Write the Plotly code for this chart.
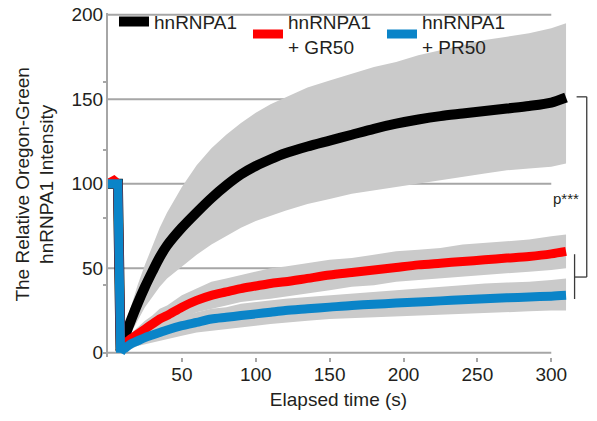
import plotly.graph_objects as go

# ---- data ----
pre_time = [0, 2, 4, 6.7]
post_time = [8.5, 10, 12, 15, 20, 25, 30, 35, 40, 50, 60, 70, 80, 90, 100,
             110, 120, 135, 150, 165, 180, 195, 210, 225, 240, 255, 270, 285, 300, 310]

a1_pre = [100, 100, 100, 100]
a1_mean = [1, 6, 11, 18, 29, 39, 48, 56.5, 63.5, 74, 83, 91.5, 99, 105.5, 110.5,
           114.5, 118, 122, 125.5, 129, 132.5, 135.5, 138, 140, 141.5, 143, 144.5, 146, 148, 151]
a1_upper = [2, 10, 17, 26, 40, 52, 63, 74, 83, 98, 111, 121, 129, 136, 142,
            147, 151, 157, 161, 165, 169, 172, 176, 179, 182, 185, 187, 189, 192, 195]
a1_lower = [0, 3, 6, 11, 19, 27, 33, 39, 44, 51, 58, 64, 69, 74, 78,
            81, 84, 88, 91, 94, 96, 98, 100, 102, 104, 106, 108, 109, 110, 112]

gr_pre = [100, 101, 102, 100]
gr_mean = [1, 4, 6, 8, 11, 14, 17, 20, 22, 27, 31, 34, 36, 38, 39.5,
           41, 42, 44, 46, 47.5, 49, 50.5, 52, 53, 54, 55, 56, 57, 58.5, 60]
gr_upper = [1, 6, 8, 11, 15, 19, 22, 26, 28, 34, 38, 42, 44, 46, 48,
            50, 51, 53, 55, 56, 58, 60, 61, 62, 64, 65, 66, 67, 69, 70]
gr_lower = [0, 2, 4, 5, 7, 9, 12, 14, 16, 20, 24, 26, 28, 30, 31,
            32, 33, 35, 37, 39, 40, 42, 43, 44, 45, 46, 47, 48, 49, 50]

pr_pre = [100, 100, 100, 100]
pr_mean = [0, 2, 3, 5, 7, 9, 10.5, 12, 13.5, 16, 18, 20, 21, 22, 23,
           24, 25, 26, 27, 28, 28.7, 29.4, 30, 30.7, 31.3, 32, 32.5, 33, 33.5, 34]
pr_upper = [1, 4, 5, 8, 10, 13, 15, 17, 19, 21, 24, 26, 27, 29, 30,
            31, 32, 33, 34, 35, 36, 37, 38, 39, 40, 41, 41.5, 42, 43, 44]
pr_lower = [0, 0, 1, 2, 4, 5, 6, 7, 8, 10, 12, 13, 14, 15, 16,
            17, 18, 19, 20, 20.5, 21, 21.5, 22, 22.5, 23, 23.5, 24, 24.5, 25, 25]

names = ["hnRNPA1", "hnRNPA1<br>+ GR50", "hnRNPA1<br>+ PR50"]
colors = ["#000000", "#ff0000", "#0a84c8"]
widths = [10, 9, 9]

x_ticks = [50, 100, 150, 200, 250, 300]
y_ticks = [0, 50, 100, 150, 200]
grid_vals = [50, 100, 150, 200]
y_minor = [0, 40, 80, 120, 160]

FONT = "Liberation Sans, Arial, sans-serif"
TXT = "#231f20"
GRID = "#a6a6a6"
BAND = "#cacaca"

fig = go.Figure()

series = [
    (a1_pre, a1_mean, a1_upper, a1_lower),
    (gr_pre, gr_mean, gr_upper, gr_lower),
    (pr_pre, pr_mean, pr_upper, pr_lower),
]

# bands
for pre, mean, up, lo in series:
    fig.add_trace(go.Scatter(
        x=post_time + post_time[::-1], y=up + lo[::-1],
        fill="toself", fillcolor=BAND, line=dict(width=0, color=BAND),
        mode="lines", showlegend=False, hoverinfo="skip"))

# mean lines: bleach segment straight, recovery smoothed
for (pre, mean, up, lo), name, c, w in zip(series, names, colors, widths):
    fig.add_trace(go.Scatter(
        x=pre_time + post_time[:1], y=pre + mean[:1], mode="lines",
        line=dict(color=c, width=w), showlegend=False, legendgroup=name,
        hoverinfo="skip"))
    fig.add_trace(go.Scatter(
        x=post_time, y=mean, mode="lines", name=name, legendgroup=name,
        line=dict(color=c, width=w, shape="spline", smoothing=0.8)))

# gridlines and x-axis line limited to 0..300
shapes = []
for g in grid_vals:
    shapes.append(dict(type="line", xref="x", yref="y", x0=0, x1=300, y0=g, y1=g,
                       line=dict(color=GRID, width=2), layer="below"))
shapes.append(dict(type="line", xref="x", yref="y", x0=0, x1=300, y0=0, y1=0,
                   line=dict(color=GRID, width=2), layer="below"))

# significance brackets
bk = "#3a3a3a"
shapes += [
    dict(type="line", xref="paper", yref="y", x0=1.0165, x1=1.0385, y0=151.4, y1=151.4, line=dict(color=bk, width=1.3)),
    dict(type="line", xref="paper", yref="y", x0=1.0385, x1=1.0385, y0=151.4, y1=44.8, line=dict(color=bk, width=1.3)),
    dict(type="line", xref="paper", yref="y", x0=1.0121, x1=1.0385, y0=44.8, y1=44.8, line=dict(color=bk, width=1.3)),
    dict(type="line", xref="paper", yref="y", x0=1.0121, x1=1.0121, y0=58.3, y1=31.8, line=dict(color=bk, width=1.3)),
]

fig.update_layout(
    width=597, height=421,
    margin=dict(l=108, r=28, t=13, b=64, autoexpand=False),
    paper_bgcolor="white", plot_bgcolor="white",
    font=dict(family=FONT, size=19, color=TXT),
    shapes=shapes,
    showlegend=True,
    legend=dict(orientation="h", x=0.013, xanchor="left", y=1.03, yanchor="top",
                bgcolor="rgba(0,0,0,0)", font=dict(size=19, color=TXT),
                entrywidthmode="pixels", entrywidth=89, itemwidth=30,
                traceorder="normal"),
    annotations=[
        dict(text="p***", xref="paper", yref="y", x=1.0, y=91, xanchor="center",
             yanchor="middle", showarrow=False, font=dict(size=15, color=TXT), xshift=-3),
        dict(text="The Relative Oregon-Green<br>hnRNPA1 Intensity", xref="paper", yref="paper",
             x=-0.105, y=0.5, xanchor="right", yanchor="middle", textangle=-90,
             showarrow=False, font=dict(size=19, color=TXT)),
    ],
)

fig.update_xaxes(
    automargin=False,
    range=[0, 312], tickvals=x_ticks, ticks="outside", ticklen=4, tickwidth=1.5,
    tickcolor=GRID, showline=False, showgrid=False, zeroline=False,
    title=dict(text="Elapsed time (s)", standoff=8, font=dict(size=19)),
    tickfont=dict(size=19), ticklabelstandoff=-4)

fig.update_yaxes(
    automargin=False,
    range=[-2.5, 201], tickvals=y_ticks, ticks="", showgrid=False, zeroline=False,
    showline=True, linecolor=GRID, linewidth=2,
    minor=dict(tickmode="array", tickvals=y_minor, ticks="outside", ticklen=3,
               tickcolor=GRID, tickwidth=1.5),
    tickfont=dict(size=19), ticklabelstandoff=-1)

# remove the browser's default page margin so the figure sits at the window's corner
fig.write_html("out.html", config={"displayModeBar": False},
               post_script="document.body.style.margin='0px';")
